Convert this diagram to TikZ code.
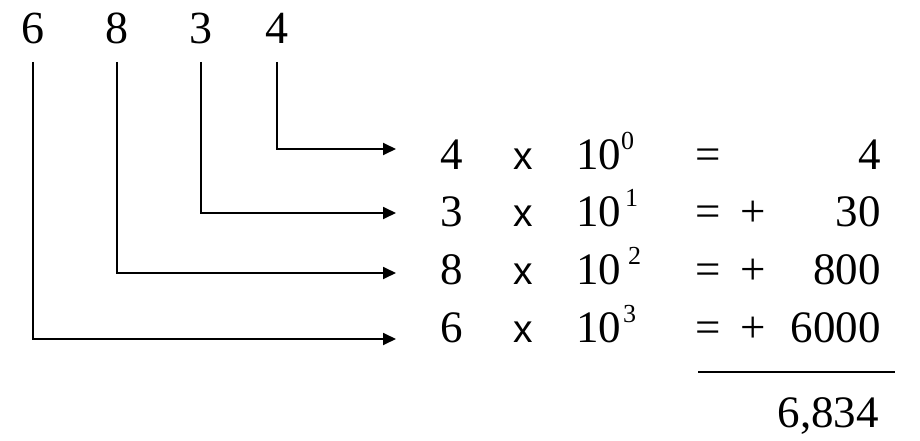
\documentclass[tikz,border=0pt]{standalone}
\usepackage{fontspec}
\setmainfont{Liberation Serif}
\newfontfamily\sansx{Liberation Sans}
\usetikzlibrary{arrows.meta,calc}
\begin{document}
\begin{tikzpicture}[x=1pt,y=-1pt,
  big/.style={inner sep=0pt,font=\fontsize{46}{46}\selectfont},
  txt/.style={inner sep=0pt,font=\fontsize{45}{45}\selectfont},
  times/.style={inner sep=0pt,font=\sansx\fontsize{39}{39}\selectfont},
  supr/.style={inner sep=0pt,font=\fontsize{26}{26}\selectfont,anchor=base west},
  conn/.style={line width=1.8pt,-{Triangle[length=13pt,width=12pt]}},
  rule/.style={line width=1.8pt}]
\useasboundingbox (0,0) rectangle (920,441);
% top digits
\node[big,anchor=base] (d6) at (33,44) {6};
\node[big,anchor=base] (d8) at (117,44) {8};
\node[big,anchor=base] (d3) at (201,44) {3};
\node[big,anchor=base] (d4) at (277,44) {4};
% arrow ends
\coordinate (e1) at (396,149);
\coordinate (e2) at (396,213);
\coordinate (e3) at (396,273);
\coordinate (e4) at (396,339);
% rows
\foreach \i/\d/\b/\s/\sx/\r in {1/4/169/0/621/4, 2/3/226/1/625/30, 3/8/284/2/628/800, 4/6/342/3/623/6000}{
  \node[txt,anchor=base] (r\i) at (452,\b) {\d};
  \node[times,anchor=base] (x\i) at (523,\b) {x};
  \node[txt,anchor=base west] (p\i) at (576,\b) {10};
  \node[supr] (s\i) at (\sx,\b-20) {\s};
  \node[txt,anchor=base] (q\i) at (708,\b) {=};
  \node[txt,anchor=base east] (v\i) at (881,\b) {\r};
}
\foreach \i in {2,3,4}{
  \node[txt,anchor=base] (pl\i) at (753,{169+57.7*(\i-1)}) {+};
}
% connectors
\draw[conn] (d4.south |- 0,62) |- (e1);
\draw[conn] (d3.south |- 0,62) |- (e2);
\draw[conn] (d8.south |- 0,62) |- (e3);
\draw[conn] (d6.south |- 0,62) |- (e4);
% sum line
\coordinate (la) at (698,372);
\coordinate (lb) at (895,372);
\draw[rule] (la) -- (lb);
\node[txt,anchor=base east] (tot) at (879,427) {6,834};
\end{tikzpicture}
\end{document}
